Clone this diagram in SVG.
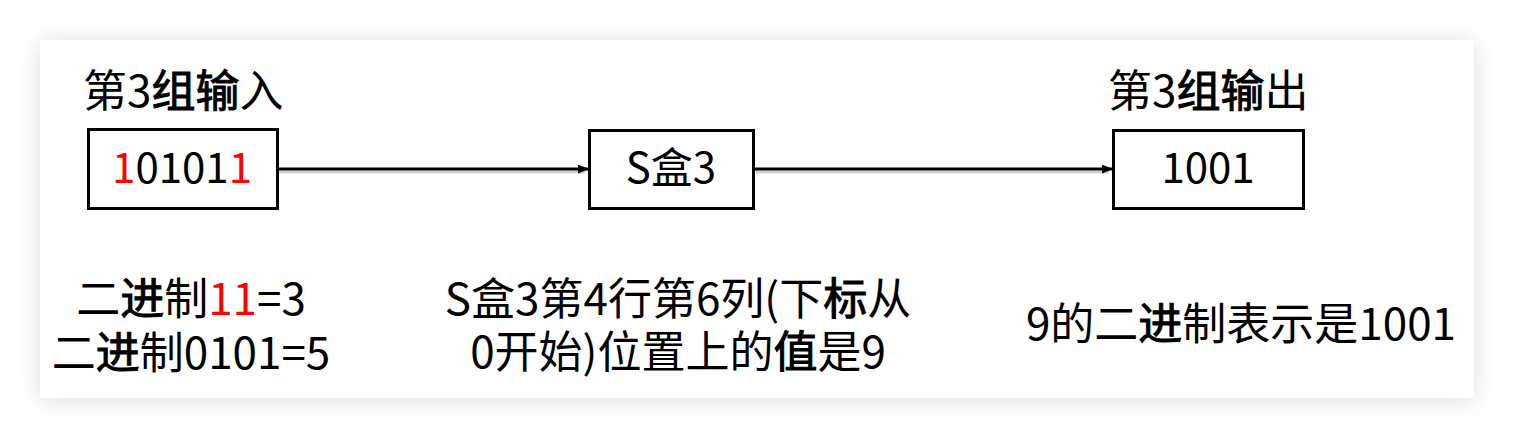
<svg xmlns="http://www.w3.org/2000/svg" width="1514" height="438" viewBox="0 0 1514 438">
<defs>
<filter id="cardShadow" x="-10%" y="-20%" width="120%" height="140%">
<feDropShadow dx="0" dy="2" stdDeviation="12" flood-color="#000" flood-opacity="0.13"/>
</filter>
<marker id="arrow" viewBox="0 0 10 8" refX="10" refY="4" markerWidth="11" markerHeight="9" markerUnits="userSpaceOnUse" orient="auto">
<path d="M0,0 L10,4 L0,8 Z" fill="#000"/>
</marker>
</defs>
<style>
.t{font-family:"Microsoft YaHei","Noto Sans CJK SC","Noto Sans",sans-serif;font-size:44px;fill:#000;}
.n{font-size:42px;}
.b{stroke:#000;stroke-width:1;}
.r{fill:#ff0000;}
.box{fill:#fff;stroke:#000;stroke-width:3;}
.con{stroke:#000;stroke-width:3;fill:none;}
.sh{stroke:#000;stroke-opacity:0.18;stroke-width:3;fill:none;}
</style>
<rect x="0" y="0" width="1514" height="438" fill="#fff"/>
<rect x="40" y="40" width="1434" height="358" fill="#fff" filter="url(#cardShadow)"/>
<g id="labels">
<text class="t" x="83" y="107">第3<tspan class="b">组输</tspan>入</text>
<text class="t" x="1108" y="107">第3<tspan class="b">组输</tspan>出</text>
</g>
<g id="connectors">
<line class="sh" x1="279" y1="172" x2="585" y2="172"/>
<line class="sh" x1="756" y1="172" x2="1109" y2="172"/>
<line class="con" x1="277" y1="169" x2="589" y2="169" marker-end="url(#arrow)"/>
<line class="con" x1="754" y1="169" x2="1113" y2="169" marker-end="url(#arrow)"/>
</g>
<g id="node-input">
<rect class="box" x="88.5" y="129.5" width="189" height="79"/>
<text class="t n" x="182" y="183" text-anchor="middle"><tspan class="r">1</tspan>0101<tspan class="r">1</tspan></text>
</g>
<g id="node-sbox">
<rect class="box" x="589.5" y="130.5" width="164" height="78"/>
<text class="t n" x="671" y="183" text-anchor="middle">S盒3</text>
</g>
<g id="node-output">
<rect class="box" x="1113.5" y="130.5" width="190" height="78"/>
<text class="t n" x="1208" y="183" text-anchor="middle">1001</text>
</g>
<g id="notes">
<text class="t" x="191" y="315" text-anchor="middle">二<tspan class="b">进</tspan>制<tspan class="r">11</tspan>=3</text>
<text class="t" x="191" y="369" text-anchor="middle">二<tspan class="b">进</tspan>制0101=5</text>
<text class="t" x="678" y="315" text-anchor="middle">S盒3第4行第6列(下<tspan class="b">标</tspan>从</text>
<text class="t" x="678" y="368" text-anchor="middle">0开始)位置上的<tspan class="b">值</tspan>是9</text>
<text class="t" x="1241" y="340" text-anchor="middle">9的二<tspan class="b">进</tspan>制表示是1001</text>
</g>
</svg>
